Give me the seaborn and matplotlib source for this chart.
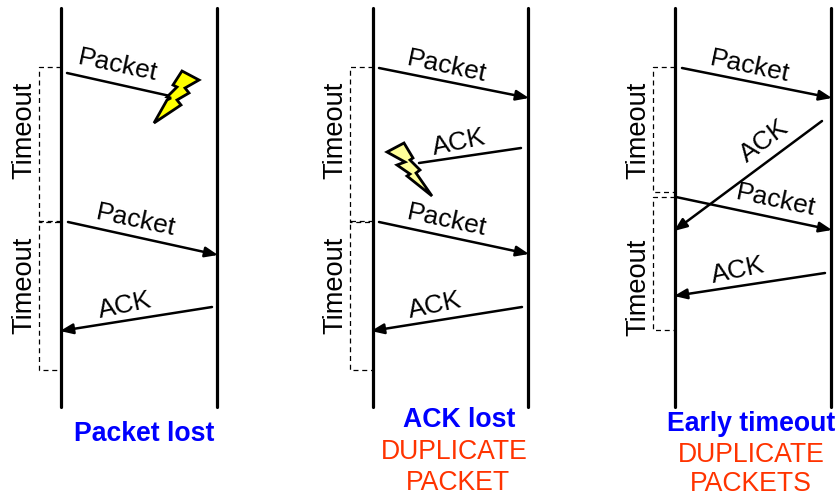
import matplotlib
matplotlib.use('Agg')
import matplotlib.pyplot as plt
import seaborn as sns

sns.set_style('white')
plt.rcParams['font.family'] = ['Liberation Sans', 'DejaVu Sans']
plt.rcParams['text.color'] = 'black'

# everything below is in reference pixels
lifeline_x = [61, 217, 373, 528, 675, 831]
lifeline_top = 8
lifeline_bottom = 407

# messages: x0, y0, x1, y1, has arrow head
messages = [
    (67, 73, 170, 96, False),
    (68, 222, 218, 255, True),
    (212, 307, 60, 331, True),
    (379, 68, 529, 98, True),
    (521, 148, 419, 163, False),
    (379, 222, 529, 254, True),
    (522, 307, 371, 331, True),
    (682, 68, 832, 98, True),
    (822, 121, 674, 231, True),
    (676, 197, 832, 230, True),
    (825, 273, 674, 296, True),
]

# timeout brackets: x of lifeline, x of bracket, top, bottom
brackets = [
    (61, 39, 67, 222),
    (61, 39, 221, 370),
    (373, 350, 67, 222),
    (373, 350, 221, 370),
    (675, 653, 67, 192),
    (675, 653, 197, 330),
]

# text, x, y, rotation
message_labels = [
    ('Packet', 118, 66, -12),
    ('Packet', 136, 221, -12),
    ('ACK', 125, 306, 12),
    ('Packet', 447, 67, -12),
    ('ACK', 459, 143, 12),
    ('Packet', 447, 221, -12),
    ('ACK', 435, 306, 12),
    ('Packet', 750, 67, -12),
    ('ACK', 764, 141, 37),
    ('Packet', 776, 201, -12),
    ('ACK', 738, 271, 12),
]
timeout_labels = [
    (24, 130), (24, 285),
    (335, 130), (335, 285),
    (638, 130), (638, 287),
]
blue_labels = [
    ('Packet lost', 144, 434),
    ('ACK lost', 459, 420),
    ('Early timeout', 751, 424),
]
red_labels = [
    ('DUPLICATE', 454, 452),
    ('PACKET', 458, 483),
    ('DUPLICATE', 751, 455),
    ('PACKETS', 751, 484),
]

bolt_1 = [(182, 71), (199, 80), (185, 88), (189, 93), (177, 100), (181, 105), (154, 123),
          (167, 100), (171, 98), (167, 97), (177, 87), (173, 85)]
bolt_2 = [(387, 152), (404, 143), (413, 158), (410, 160), (420, 170), (416, 173), (432, 196),
          (407, 176), (410, 174), (397, 165), (405, 162)]

fig = plt.figure(figsize=(8.39, 4.96), dpi=100)
ax = fig.add_axes([0, 0, 1, 1])


def line(xs, ys, **kw):
    sns.lineplot(x=xs, y=ys, sort=False, estimator=None, color='black', ax=ax, **kw)


# lifelines
for x in lifeline_x:
    line([x, x], [lifeline_top, lifeline_bottom], linewidth=2.3)

# timeout brackets
for x0, xb, top, bottom in brackets:
    line([x0, xb, xb, x0], [top, top, bottom, bottom], linewidth=0.9, linestyle=(0, (4, 3)))

# messages
for x0, y0, x1, y1, head in messages:
    if head:
        ax.annotate('', xy=(x1, y1), xytext=(x0, y0),
                    arrowprops=dict(arrowstyle='-|>,head_length=0.55,head_width=0.22', color='black',
                                    linewidth=1.8, shrinkA=0, shrinkB=0, mutation_scale=14))
    else:
        line([x0, x1], [y0, y1], linewidth=1.8)

# lightning
ax.fill(*zip(*bolt_1), facecolor='#FFFF00', edgecolor='black', linewidth=2, joinstyle='miter', zorder=4)
ax.fill(*zip(*bolt_2), facecolor='#FFFF99', edgecolor='black', linewidth=2, joinstyle='miter', zorder=4)

for txt, x, y, rot in message_labels:
    ax.text(x, y, txt, fontsize=19, rotation=rot, rotation_mode='anchor', ha='center', va='center')
for x, y in timeout_labels:
    ax.text(x, y, 'Timeout', fontsize=19.6, rotation=90, ha='center', va='center')
for txt, x, y in blue_labels:
    ax.text(x, y, txt, fontsize=19.2, fontweight='bold', color='#0000FF', ha='center', va='center')
for txt, x, y in red_labels:
    ax.text(x, y, txt, fontsize=19.2, color='#FF3300', ha='center', va='center')

ax.set_xlim(0, 839)
ax.set_ylim(496, 0)
ax.axis('off')
fig.savefig('out.png', dpi=100)
